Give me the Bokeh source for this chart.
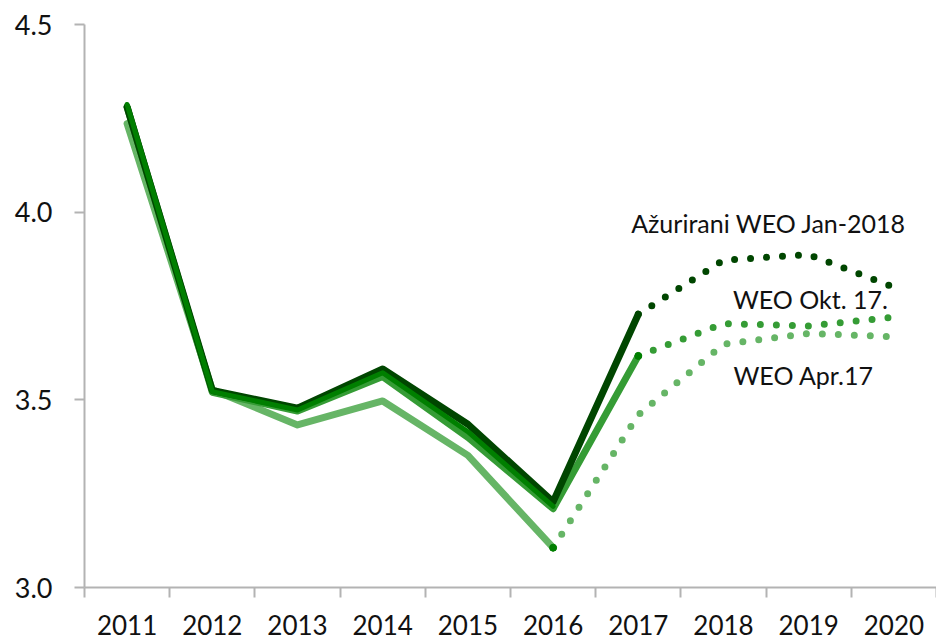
from bokeh.plotting import figure
from bokeh.models import Range1d, FixedTicker, PrintfTickFormatter, Label
from bokeh.embed import file_html
from bokeh.resources import INLINE

years = ["2011", "2012", "2013", "2014", "2015", "2016", "2017", "2018", "2019", "2020"]

# WEO Apr.17 (light): actual part 2011-2016, projection 2016-2020
apr_hist = [4.236, 3.527, 3.433, 3.497, 3.352, 3.106]
apr_proj = [3.106, 3.46, 3.648, 3.677, 3.668]
# WEO Okt. 17. (medium)
okt_hist = [4.28, 3.52, 3.47, 3.562, 3.40, 3.21, 3.617]
okt_proj = [3.617, 3.703, 3.697, 3.72]
# Ažurirani WEO Jan-2018 (dark)
jan_hist = [4.28, 3.525, 3.478, 3.582, 3.435, 3.228, 3.728]
jan_proj = [3.728, 3.872, 3.887, 3.80]
# actual data line (green)
act_hist = [4.287, 3.522, 3.473, 3.572, 3.415, 3.216]

C_LIGHT = "#66b566"
C_MED = "#359c35"
C_GREEN = "#007f00"
C_DARK = "#004600"

def xs(start, n):
    return [i + 0.5 for i in range(start, start + n)]

p = figure(width=936, height=642, output_backend="svg", toolbar_location=None,
           x_range=Range1d(0, 10), y_range=Range1d(3.0, 4.5),
           min_border_left=84, min_border_right=0, min_border_top=24, min_border_bottom=55)
p.outline_line_color = None
p.xgrid.visible = False
p.ygrid.visible = False

LW = 7
p.line(xs(0, 6), apr_hist, line_color=C_LIGHT, line_width=LW, line_join="round", line_cap="round")
p.line(xs(5, 5), apr_proj, line_color=C_LIGHT, line_width=7, line_dash="0 16", line_cap="round")
p.line(xs(0, 7), okt_hist, line_color=C_MED, line_width=LW, line_join="round", line_cap="round")
p.line(xs(6, 4), okt_proj, line_color=C_MED, line_width=7, line_dash="0 16", line_cap="round")
p.line(xs(0, 7), jan_hist, line_color=C_DARK, line_width=LW, line_join="round", line_cap="round")
p.line(xs(6, 4), jan_proj, line_color=C_DARK, line_width=7, line_dash="0 16", line_cap="round")
p.line(xs(0, 6), act_hist, line_color=C_GREEN, line_width=5, line_join="round", line_cap="round")
p.scatter([5.5], [apr_hist[-1]], size=7, color=C_GREEN)
p.scatter([6.5], [okt_hist[-1]], size=7, color=C_GREEN)

FONT = "Lato"
AX = "#b3b3b3"
xa = p.xaxis[0]
xa.ticker = FixedTicker(ticks=[i + 0.5 for i in range(10)], minor_ticks=list(range(11)))
xa.major_label_overrides = {i + 0.5: y for i, y in enumerate(years)}
xa.major_tick_line_color = None
xa.minor_tick_out = 10
xa.minor_tick_in = 0
xa.minor_tick_line_color = AX
xa.minor_tick_line_width = 2
xa.axis_line_color = AX
xa.axis_line_width = 2
xa.major_label_text_font = FONT
xa.major_label_text_font_size = "26px"
xa.major_label_text_color = "#111111"
xa.major_label_standoff = 17

ya = p.yaxis[0]
ya.ticker = FixedTicker(ticks=[3.0, 3.5, 4.0, 4.5], minor_ticks=[])
ya.formatter = PrintfTickFormatter(format="%.1f")
ya.major_tick_out = 10
ya.major_tick_in = 0
ya.major_tick_line_color = AX
ya.major_tick_line_width = 2
ya.minor_tick_line_color = None
ya.axis_line_color = AX
ya.axis_line_width = 2
ya.major_label_text_font = FONT
ya.major_label_text_font_size = "27px"
ya.major_label_text_color = "#111111"
ya.major_label_standoff = 22

for txt, x, y in [("Ažurirani WEO Jan-2018", 8.03, 3.972),
                  ("WEO Okt. 17.", 8.52, 3.769),
                  ("WEO Apr.17", 8.44, 3.567)]:
    p.add_layout(Label(x=x, y=y, text=txt, text_align="center", text_baseline="middle",
                       text_font=FONT, text_font_size="25px", text_color="#111111"))

open("out.html", "w").write(file_html(p, INLINE))
